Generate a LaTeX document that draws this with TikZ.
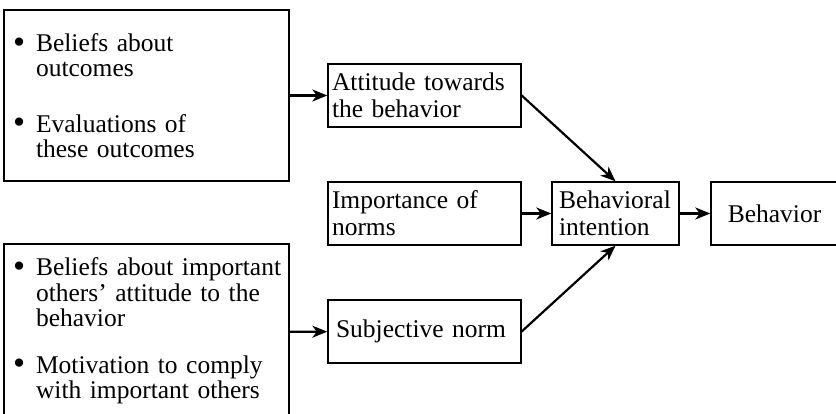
\documentclass[tikz,border=0pt]{standalone}
\usepackage{fontspec}
\setmainfont{Liberation Serif}
\usetikzlibrary{arrows.meta}

\newcommand{\bigbullet}{\raisebox{-1.5pt}{\scalebox{1.35}{\textbullet}}}

\begin{document}
\begin{tikzpicture}[x = 1pt, y = -1pt, font=\fontsize{25.5}{27}\selectfont]
	\tikzstyle{boxStyle} = [draw, line width = 1.4pt, inner ysep = 0pt, align = left]
	\tikzstyle{listStyle} = [boxStyle, text width = 267pt, inner xsep = 9pt, font=\fontsize{25.5}{25}\selectfont]
	\tikzstyle{smallStyle} = [boxStyle, minimum height = 63pt, text width = 185pt, inner xsep = 4pt]
	\tikzstyle{stageStyle} = [boxStyle, minimum height = 63pt, text width = 113pt, inner xsep = 7pt]
	\tikzstyle{arrowStyle} = [line width = 2.2pt, -{Stealth[length = 15pt, width = 12pt, inset = 4.5pt]}]
	\useasboundingbox (0, 0) rectangle (836, 414);
	\node[listStyle, minimum height = 171pt] (outcomes) at (146.5, 95.5)
		{\begin{tabular}{@{}l@{\hspace{11pt}}l@{}}
			\bigbullet & \rule{0pt}{25.5pt}Beliefs about\\
			           & outcomes\\[30pt]
			\bigbullet & Evaluations of\\
			           & these outcomes
		\end{tabular}};
	\node[listStyle, minimum height = 176pt] (others) at (146.5, 332)
		{\begin{tabular}{@{}l@{\hspace{11pt}}l@{}}
			\bigbullet & Beliefs about important\\
			           & others' attitude to the\\
			           & behavior\\[22pt]
			\bigbullet & Motivation to comply\\
			           & with important others
		\end{tabular}};
	\node[smallStyle] (attitude) at (424.5, 95.5) {Attitude towards\\the behavior};
	\node[smallStyle] (importance) at (424.5, 213.5) {Importance of\\norms};
	\node[smallStyle] (subjective) at (424.5, 331.5) {\hspace*{4pt}Subjective norm};
	\node[stageStyle] (intention) at (615.5, 213.5) {Behavioral\\intention};
	\node[stageStyle, align = center] (behavior) at (774.5, 213.5) {Behavior};
	\draw[arrowStyle] (outcomes) -- (attitude);
	\draw[arrowStyle] (others) -- (subjective);
	\draw[arrowStyle] (attitude.east) -- (intention.north);
	\draw[arrowStyle] (importance) -- (intention);
	\draw[arrowStyle] (subjective.east) -- (intention.south);
	\draw[arrowStyle] (intention) -- (behavior);
\end{tikzpicture}
\end{document}
